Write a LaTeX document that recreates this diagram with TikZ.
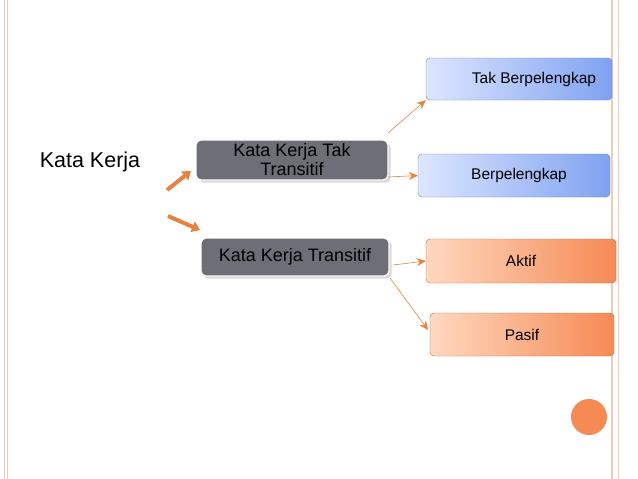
\documentclass[tikz,border=0pt]{standalone}
\usepackage{fontspec}
\setmainfont{Liberation Sans}
\usetikzlibrary{arrows.meta,shadows}
\definecolor{pinkline}{HTML}{F4C9B8}
\definecolor{blueA}{HTML}{DDE6FF}
\definecolor{blueB}{HTML}{7FA2F0}
\definecolor{orA}{HTML}{FFD8C0}
\definecolor{orB}{HTML}{F58A55}
\definecolor{grayb}{HTML}{6D6E76}
\definecolor{arr}{HTML}{E8813F}
\tikzset{
 bluebox/.style={rounded corners=4pt,draw=blueB!80!black,left color=blueA,right color=blueB,font=\fontsize{15.5}{17}\selectfont,align=center},
 orbox/.style={rounded corners=4pt,draw=orB!80!black,left color=orA,right color=orB,font=\fontsize{15.5}{17}\selectfont,align=center},
 graybox/.style={rounded corners=5pt,fill=grayb,draw=white,line width=1.2pt,font=\fontsize{18}{19}\selectfont,align=center,drop shadow={opacity=0.3}},
 thin/.style={draw=arr,line width=0.6pt,-{Stealth[length=9pt,width=8pt]}},
 thick/.style={draw=arr,line width=4pt,-{Triangle[length=8pt,width=11pt]}}
}
\begin{document}
\begin{tikzpicture}[x=1pt,y=-1pt]
\useasboundingbox (0,0) rectangle (638,479);
\fill[white] (0,0) rectangle (638,479);
\draw[pinkline,line width=1.6pt] (4.5,0) -- (4.5,479);
\draw[pinkline,line width=1pt] (7.5,0) -- (7.5,479);
\draw[pinkline,line width=1.6pt] (612,0) -- (612,479);
\draw[pinkline,line width=1pt] (618,0) -- (618,479);
\fill[orB] (589,417) circle (18);
\node (kk) at (90,162) {\fontsize{21.5}{23}\selectfont Kata Kerja};
\node[graybox,minimum width=192pt,minimum height=40pt] (tt) at (292,160) {Kata Kerja Tak\\Transitif};
\node[graybox,minimum width=188pt,minimum height=38pt] (tr) at (295,257) {Kata Kerja Transitif};
\node[bluebox,minimum width=186pt,minimum height=42pt] (tb) at (519,79) {\hspace*{30pt}Tak Berpelengkap};
\node[bluebox,minimum width=192pt,minimum height=43pt] (bp) at (514,175.5) {\hspace*{10pt}Berpelengkap};
\node[orbox,minimum width=190pt,minimum height=44pt] (ak) at (521,261) {Aktif};
\node[orbox,minimum width=184pt,minimum height=43pt] (ps) at (522,334.5) {Pasif};
\coordinate (a1) at (167,190); \coordinate (a2) at (168,216);
\draw[thick] (a1) -- (191,171);
\draw[thick] (a2) -- (200,230);
\draw[thin] (388,133) -- (tb.south west);
\draw[thin] (tt.east) ++(0,17) -- (bp.west);
\draw[thin] (393,265) -- (ak.west);
\draw[thin] (390,278) -- (428,330);
\end{tikzpicture}
\end{document}
